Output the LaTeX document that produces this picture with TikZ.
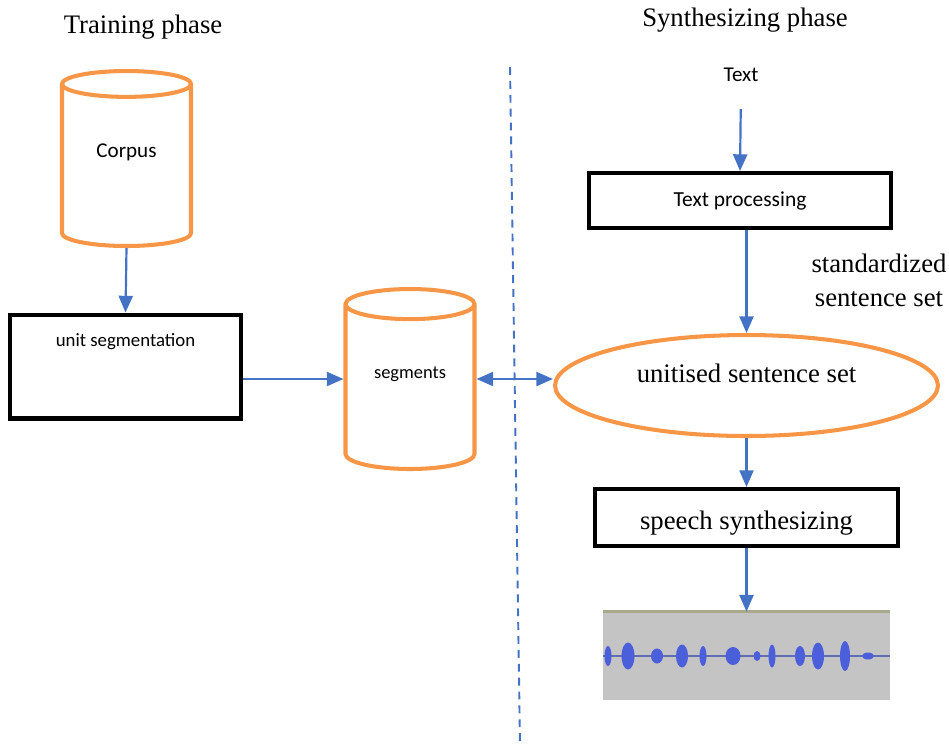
\documentclass[tikz,border=0pt]{standalone}
\usepackage{fontspec}
\setmainfont{Liberation Serif}
\newfontfamily\calibri{Carlito}
\usetikzlibrary{arrows.meta,shapes.geometric}
\definecolor{barrel}{HTML}{F79646}
\definecolor{flow}{HTML}{4472C4}
\definecolor{blip}{HTML}{4B5FDB}
\definecolor{panel}{HTML}{C4C4C4}
\definecolor{rim}{HTML}{A9A98E}
\newcommand{\serifbig}{\fontsize{15.2}{19.3}\selectfont}

\begin{document}
\begin{tikzpicture}[x=0.02cm,y=-0.02cm,
    store/.style={cylinder, shape border rotate=90, aspect=0.36, draw=barrel, line width=2.3pt,
        anchor=shape center, minimum width=2.58cm},
    stage/.style={draw, line width=2.3pt, rectangle, inner sep=0pt},
    link/.style={flow, line width=1.25pt, -{Triangle[length=9.5pt,width=8pt]}}]
    \useasboundingbox (0,0) rectangle (949,745);

    % phase titles
    \node[font=\serifbig] (train) at (143,27) {Training phase};
    \node[font=\serifbig] (synth) at (745,20) {Synthesizing phase};

    % training side
    \node[store, minimum height=3.5cm, font=\calibri\fontsize{12}{14}\selectfont] (corpus) at (126.5,158.5) {\raisebox{1.7em}{Corpus}};
    \node[stage, minimum width=4.62cm, minimum height=2.08cm,
        label={[anchor=north, yshift=-0.3cm, font=\calibri\fontsize{10.7}{13}\selectfont]north:unit segmentation}] (unitseg) at (125.5,366.5) {};
    \node[store, minimum height=3.6cm, font=\calibri\fontsize{10.5}{13}\selectfont] (segs) at (410,379) {\raisebox{2em}{segments}};

    % synthesizing side
    \node[font=\calibri\fontsize{12}{14}\selectfont] (txt) at (741,75) {Text};
    \node[stage, minimum width=6.04cm, minimum height=1.1cm, font=\calibri\fontsize{12.2}{14}\selectfont] (textproc) at (740,200.5) {Text processing};
    \node[font=\serifbig, align=center] (stdset) at (879,280) {standardized\\sentence set};
    \node[ellipse, draw=barrel, line width=2.3pt, minimum width=7.66cm, minimum height=2.02cm,
        font=\serifbig] (sentset) at (746.5,385.5) {\raisebox{0.9em}{unitised sentence set}};
    \node[stage, minimum width=6.06cm, minimum height=1.14cm, font=\serifbig] (speech) at (746.5,517.5) {\raisebox{-1.1em}{speech synthesizing}};
    \node[rectangle, fill=panel, minimum width=5.74cm, minimum height=1.76cm, inner sep=0pt] (wave) at (746.5,656) {};

    % divider
    \coordinate (divtop) at (510,67);
    \coordinate (divbot) at (520,745);
    \draw[flow, line width=1.1pt, dash pattern=on 4.5pt off 3.4pt] (divtop) -- (divbot);

    % waveform
    \draw[rim, line width=1.6pt] (wave.north west) -- (wave.north east);
    \draw[blip!60!gray, line width=0.6pt] (wave.west) -- (wave.east);
    \fill[blip] (608,656) ellipse (3.5 and 10);
    \fill[blip] (628,656) ellipse (6.5 and 13.5);
    \fill[blip] (657,656) ellipse (6 and 7.5);
    \fill[blip] (682,656) ellipse (6 and 11.5);
    \fill[blip] (703,656) ellipse (3.5 and 10);
    \fill[blip] (733,656) ellipse (7.5 and 9);
    \fill[blip] (757,656) ellipse (3.5 and 5);
    \fill[blip] (772,656) ellipse (3.5 and 11.5);
    \fill[blip] (800,656) ellipse (5 and 10);
    \fill[blip] (818,656) ellipse (6 and 13.5);
    \fill[blip] (845,656) ellipse (5 and 15);
    \fill[blip] (868,656) ellipse (6 and 3.5);

    % connectors
    \draw[link] (corpus.south) -- (unitseg.north);
    \draw[link] (unitseg.east |- segs.shape center) -- (segs.shape center -| segs.west);
    \draw[flow, line width=1.25pt, {Triangle[length=9.5pt,width=8pt]}-{Triangle[length=9.5pt,width=8pt]}]
        (segs.shape center -| segs.east) -- (segs.shape center -| sentset.west);
    \draw[link, shorten <=0.42cm] (txt.south) -- (textproc.north);
    \draw[link] (sentset.north |- textproc.south) -- (sentset.north);
    \draw[link] (sentset.south) -- (speech.north);
    \draw[link] (speech.south) -- (wave.north);
\end{tikzpicture}
\end{document}
